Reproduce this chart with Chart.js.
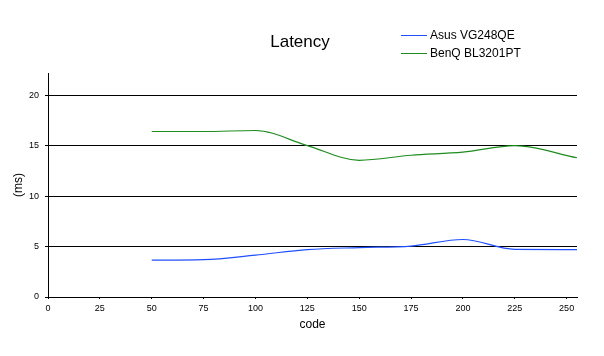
<!DOCTYPE html>
<html>
<head>
<meta charset="utf-8">
<script src="https://cdn.jsdelivr.net/npm/chart.js@4"></script>
<style>
html,body{margin:0;padding:0;background:#fff;}
#wrap{width:604px;height:356px;position:relative;}
</style>
</head>
<body>
<div id="wrap"><canvas id="c" width="604" height="356"></canvas></div>
<script>
const titleText = "Latency";
const xTitle = "code";
const yTitle = "(ms)";
const codes = [50, 75, 100, 125, 150, 175, 200, 225, 255];
const asusLabel = "Asus VG248QE";
const asusValues = [3.65, 3.7, 4.15, 4.7, 4.9, 5.05, 5.7, 4.72, 4.7];
const benqLabel = "BenQ BL3201PT";
const benqValues = [16.4, 16.4, 16.5, 15.0, 13.55, 14.05, 14.35, 15.0, 13.8];

const asusColor = "#1f50ff";
const benqColor = "#1e8c1e";
const FONT = '"Liberation Sans", Arial, sans-serif';

function pts(xs, ys){ return xs.map((x,i)=>({x:x, y:ys[i]})); }

const headerPlugin = {
  id: 'header',
  afterDraw(chart){
    const ctx = chart.ctx;
    ctx.save();
    ctx.fillStyle = '#000';
    ctx.font = '17px ' + FONT;
    ctx.textAlign = 'center';
    ctx.textBaseline = 'middle';
    ctx.fillText(titleText, 300, 42);
    ctx.font = '12px ' + FONT;
    ctx.textAlign = 'left';
    chart.data.datasets.forEach((ds, i) => {
      const y = 35 + i * 18;
      ctx.strokeStyle = ds.borderColor;
      ctx.lineWidth = 1;
      ctx.beginPath();
      ctx.moveTo(401, y + 0.5);
      ctx.lineTo(427, y + 0.5);
      ctx.stroke();
      ctx.fillStyle = '#000';
      ctx.fillText(ds.label, 430, y + 1);
    });
    ctx.restore();
  }
};

new Chart(document.getElementById('c'), {
  type: 'line',
  data: {
    datasets: [
      { label: asusLabel, data: pts(codes, asusValues), borderColor: asusColor,
        borderWidth: 1.2, pointRadius: 0, fill: false, cubicInterpolationMode: 'monotone' },
      { label: benqLabel, data: pts(codes, benqValues), borderColor: benqColor,
        borderWidth: 1.2, pointRadius: 0, fill: false, cubicInterpolationMode: 'monotone' }
    ]
  },
  options: {
    responsive: false,
    animation: false,
    devicePixelRatio: 1,
    layout: { padding: { left: 11, right: 27, top: 73, bottom: 24 } },
    plugins: { legend: { display: false }, title: { display: false }, tooltip: { enabled: false } },
    scales: {
      x: {
        type: 'linear', min: 0, max: 255,
        afterFit(scale){ scale.height = 35; },
        ticks: { stepSize: 25, includeBounds: false, color: '#000', padding: 4,
                 font: { family: FONT, size: 9 }, maxRotation: 0 },
        grid: { display: true, drawOnChartArea: false, drawTicks: true, tickLength: 2, color: '#000' },
        border: { color: '#000', width: 1 },
        title: { display: true, text: xTitle, color: '#000', padding: { top: 0, bottom: 0 },
                 font: { family: FONT, size: 12 } }
      },
      y: {
        type: 'linear', min: 0, max: 22.2,
        afterFit(scale){ scale.width = 37; },
        ticks: { stepSize: 5, includeBounds: false, color: '#000', padding: 6,
                 font: { family: FONT, size: 9 } },
        grid: { color: '#000', lineWidth: 1, tickLength: 3, drawTicks: true },
        border: { color: '#000', width: 1 },
        title: { display: true, text: yTitle, color: '#000', padding: { top: 0, bottom: 0 },
                 font: { family: FONT, size: 12 } }
      }
    }
  },
  plugins: [headerPlugin]
});
</script>
</body>
</html>
